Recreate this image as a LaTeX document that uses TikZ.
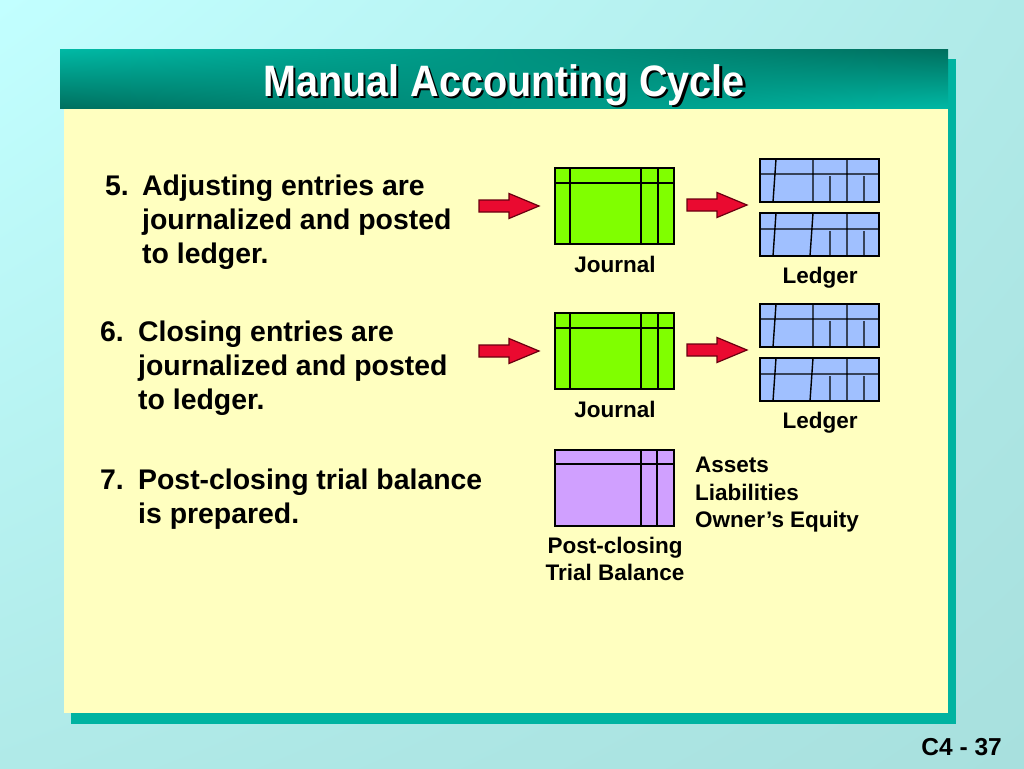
\documentclass[tikz,border=0pt]{standalone}
\usepackage{fontspec}
\usepackage{graphicx}
\usetikzlibrary{shadings}
\setmainfont{Liberation Sans}
\definecolor{bgA}{HTML}{C2FFFF}
\definecolor{bgB}{HTML}{B0EAE8}
\definecolor{bgC}{HTML}{A8E0DE}
\definecolor{panel}{HTML}{FFFFC0}
\definecolor{shadowteal}{HTML}{00B3A1}
\definecolor{tealbright}{HTML}{00B8A4}
\definecolor{tealdark}{HTML}{00705F}
\definecolor{arrowred}{HTML}{EA0A30}
\definecolor{arrowedge}{HTML}{6A0010}
\definecolor{jgreen}{HTML}{80FF00}
\definecolor{lblue}{HTML}{A0C0FF}
\definecolor{tpurple}{HTML}{D0A0FF}
\tikzset{
  body/.style={inner sep=0pt, anchor=base west, font=\fontsize{28.4}{34}\selectfont\bfseries},
  lbl/.style={inner sep=0pt, anchor=base, font=\fontsize{22.5}{27}\selectfont\bfseries},
  lblw/.style={lbl, anchor=base west},
  frm/.style={draw=black, line width=1.4pt},
  journal/.pic={
    \draw[frm, fill=jgreen] (0,0) rectangle (119,76);
    \draw[frm] (0,15) -- (119,15) (15,0) -- (15,76) (86,0) -- (86,76) (103,0) -- (103,76);
  },
  ledgerA/.pic={
    \draw[frm, fill=lblue] (0,0) rectangle (119,43);
    \draw[frm] (0,15) -- (119,15) (16,0) -- (13,43) (53,0) -- (53,43) (87,0) -- (87,43)
      (70,17) -- (70,43) (104,17) -- (104,43);
  },
  ledgerB/.pic={
    \draw[frm, fill=lblue] (0,0) rectangle (119,43);
    \draw[frm] (0,16) -- (119,16) (16,0) -- (13,43) (53,0) -- (50,43) (87,0) -- (87,43)
      (70,18) -- (70,43) (104,18) -- (104,43);
  },
  trialbal/.pic={
    \draw[frm, fill=tpurple] (0,0) rectangle (119,76);
    \draw[frm] (0,14) -- (119,14) (86,0) -- (86,76) (102,0) -- (102,76);
  },
  redarrow/.pic={
    \draw[fill=arrowred, draw=arrowedge, line width=1.2pt, line join=miter]
      (0,-6) -- (30,-6) -- (30,-12.5) -- (60,0) -- (30,12.5) -- (30,6) -- (0,6) -- cycle;
  }
}
\begin{document}
\begin{tikzpicture}[x=1pt, y=-1pt]
\useasboundingbox (0,0) rectangle (1024,768);
% background
\shade[upper left=bgA, upper right=bgB, lower left=bgB, lower right=bgC] (0,0) rectangle (1024,768);
% shadow
\fill[shadowteal] (71,59) rectangle (956,724);
% panel
\fill[panel] (64,108) rectangle (948,713);
% title bar
\shade[upper left=tealbright, lower left=tealdark, upper right=tealdark, lower right=tealbright] (60,50) rectangle (948,108);
\node[inner sep=0pt, anchor=base, text=black] (titleshadow) at (506.5,98.5)
  {\scalebox{0.9}[1]{\fontsize{44}{48}\selectfont\bfseries Manual Accounting Cycle}};
\node[inner sep=0pt, anchor=base, text=white] (title) at (504,96)
  {\scalebox{0.9}[1]{\fontsize{44}{48}\selectfont\bfseries Manual Accounting Cycle}};

% group 5
\node[body] (n5) at (105,195) {5.};
\node[body] (t5a) at (142,195) {Adjusting entries are};
\node[body] (t5b) at (142,229) {journalized and posted};
\node[body] (t5c) at (142,263) {to ledger.};
% group 6
\node[body] (n6) at (100,341) {6.};
\node[body] (t6a) at (138,341) {Closing entries are};
\node[body] (t6b) at (138,375) {journalized and posted};
\node[body] (t6c) at (138,409) {to ledger.};
% group 7
\node[body] (n7) at (100,489) {7.};
\node[body] (t7a) at (138,489) {Post-closing trial balance};
\node[body] (t7b) at (138,523) {is prepared.};

% row 1 graphics
\pic at (479,206) {redarrow};
\pic at (555,168) {journal};
\pic at (687,205) {redarrow};
\pic at (760,159) {ledgerA};
\pic at (760,213) {ledgerB};
\node[lbl] (j1) at (615,272) {Journal};
\node[lbl] (l1) at (820,283) {Ledger};

% row 2 graphics
\pic at (479,351) {redarrow};
\pic at (555,313) {journal};
\pic at (687,350) {redarrow};
\pic at (760,304) {ledgerA};
\pic at (760,358) {ledgerB};
\node[lbl] (j2) at (615,417) {Journal};
\node[lbl] (l2) at (820,428) {Ledger};

% row 3
\pic at (555,450) {trialbal};
\node[lblw] (assets) at (695,472) {Assets};
\node[lblw] (liab) at (695,500) {Liabilities};
\node[lblw] (equity) at (695,527) {Owner’s Equity};
\node[lbl] (pc1) at (615,553) {Post-closing};
\node[lbl] (pc2) at (615,580) {Trial Balance};

% page number
\node[inner sep=0pt, anchor=base east, font=\fontsize{24.5}{28}\selectfont\bfseries] (pgno) at (1002,755) {C4 - 37};
\end{tikzpicture}
\end{document}
